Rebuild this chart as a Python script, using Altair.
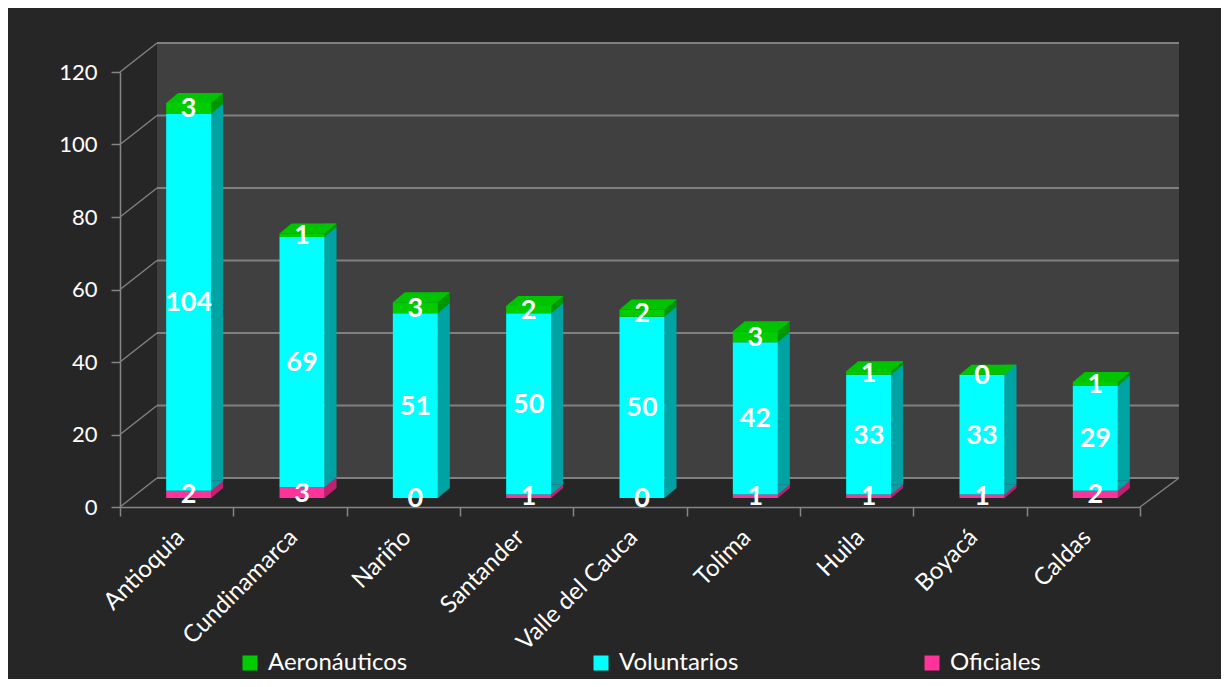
import altair as alt
import pandas as pd

categories = ["Antioquia", "Cundinamarca", "Nariño", "Santander", "Valle del Cauca",
              "Tolima", "Huila", "Boyacá", "Caldas"]
oficiales = [2, 3, 0, 1, 0, 1, 1, 1, 2]
voluntarios = [104, 69, 51, 50, 50, 42, 33, 33, 29]
aeronauticos = [3, 1, 3, 2, 2, 3, 1, 0, 1]
series_names = ["Aeronáuticos", "Voluntarios", "Oficiales"]
y_ticks = [0, 20, 40, 60, 80, 100, 120]

front_colors = ["#00cc00", "#00ffff", "#ff3399"]
top_color = "#00c400"
side_colors = ["#009600", "#00a3a3", "#c0206e"]

rows = []
stack_rank = {"Oficiales": 0, "Voluntarios": 1, "Aeronáuticos": 2}
for i, c in enumerate(categories):
    for name, vals in (("Oficiales", oficiales), ("Voluntarios", voluntarios),
                       ("Aeronáuticos", aeronauticos)):
        rows.append({"category": c, "series": name, "value": vals[i], "ord": stack_rank[name]})
df = pd.DataFrame(rows)
grid_df = pd.DataFrame({"v": y_ticks})

W, H = 1020, 435
DX, DY = 37, 29          # depth of back wall
BX, BY = 12, 9           # bar front-face offset
SX, SY = 12, 10          # bar depth
BW = 45                  # bar front width

FONT = "Lato"
y_axis = alt.Axis(values=y_ticks, title=None, grid=False, labelColor="white", labelFont=FONT,
                  labelFontSize=22, labelPadding=14, domainColor="#868686", domainWidth=1.5,
                  tickColor="#868686", tickWidth=1.5, tickSize=9)
x_axis = alt.Axis(title=None, labelAngle=-45, labelColor="white", labelFont=FONT,
                  labelFontSize=24, labelPadding=9, labelOffset=-5, tickBand="extent",
                  domainColor="#868686", domainWidth=1.5, tickColor="#868686", tickWidth=1.5,
                  tickSize=9)
y_scale = alt.Scale(domain=[0, 120], nice=False)
x_scale = alt.Scale(domain=categories, paddingInner=0, paddingOuter=0)

X = alt.X("category:N", sort=categories, scale=x_scale, axis=x_axis)
Y = alt.Y("value:Q", stack="zero", scale=y_scale, axis=y_axis)
ORDER = alt.Order("ord:Q", sort="ascending")


def stacked(data):
    return alt.Chart(data).transform_stack(
        stack="value", groupby=["category"], as_=["y0", "y1"],
        sort=[alt.SortField("ord", order="ascending")]
    )


wall = alt.Chart(grid_df).mark_rect(color="#404040").encode(
    x=alt.value(DX), x2=alt.value(W + DX + 2), y=alt.value(-DY), y2=alt.value(H - DY)
).transform_filter("datum.v == 0")

grid = alt.Chart(grid_df).mark_rule(color="#808080", strokeWidth=2, yOffset=-DY).encode(
    y=alt.Y("v:Q", scale=y_scale, axis=y_axis), x=alt.value(DX), x2=alt.value(W + DX + 2)
)
diag = alt.Chart(grid_df).mark_rule(color="#808080", strokeWidth=1.5, y2Offset=-DY).encode(
    y=alt.Y("v:Q", scale=y_scale, axis=y_axis), y2="v:Q", x=alt.value(0), x2=alt.value(DX)
)
floor_edge = alt.Chart(grid_df).mark_rule(color="#808080", strokeWidth=1.5, y2Offset=-DY).encode(
    y=alt.Y("v:Q", scale=y_scale, axis=y_axis), y2="v:Q", x=alt.value(W), x2=alt.value(W + DX + 2)
).transform_filter("datum.v == 0")

side_scale = alt.Scale(domain=series_names, range=side_colors)

side_rect = alt.Chart(df).transform_filter("datum.value > 0").mark_bar(
    width=SX, xOffset=BX + BW / 2 + SX / 2, yOffset=-BY - SY, y2Offset=-BY - SY
).encode(
    x=X, y=Y, order=ORDER,
    color=alt.Color("series:N", scale=side_scale, legend=None),
)
side_tri = stacked(df).transform_filter("datum.value > 0").mark_point(
    shape=f"M 0 0 L 0 -{SY} L {SX} -{SY} Z", size=4, filled=True, opacity=1, strokeWidth=0,
    xOffset=BX + BW / 2, yOffset=-BY
).encode(
    x=X, y=alt.Y("y0:Q", scale=y_scale, axis=y_axis),
    color=alt.Color("series:N", scale=side_scale, legend=None),
)
front = alt.Chart(df).mark_bar(width=BW, xOffset=BX, yOffset=-BY, y2Offset=-BY).encode(
    x=X, y=Y, order=ORDER,
    color=alt.Color("series:N", scale=alt.Scale(domain=series_names, range=front_colors),
                    legend=alt.Legend(title=None, orient="none", direction="horizontal", columns=3,
                                      legendX=118, legendY=579, columnPadding=181,
                                      symbolType="square", symbolSize=225, symbolStrokeWidth=0,
                                      labelColor="white", labelFont=FONT, labelFontSize=24,
                                      labelOffset=6, padding=0)),
)
top_face = stacked(df).transform_filter("datum.series == 'Aeronáuticos'").mark_point(
    shape=f"M -{BW / 2} 0 L {BW / 2} 0 L {BW / 2 + SX} -{SY} L -{BW / 2 - SX} -{SY} Z",
    size=4, filled=True, opacity=1, strokeWidth=0, color=top_color, xOffset=BX, yOffset=-BY
).encode(
    x=X, y=alt.Y("y1:Q", scale=y_scale, axis=y_axis)
)
labels = stacked(df).transform_calculate(mid="(datum.y0 + datum.y1) / 2").mark_text(
    color="white", font=FONT, fontWeight="bold", fontSize=27, xOffset=BX, yOffset=-BY + 1,
    baseline="middle", align="center"
).encode(
    x=X, y=alt.Y("mid:Q", scale=y_scale, axis=y_axis), text="value:Q"
)

chart = alt.layer(wall, grid, diag, floor_edge, side_rect, side_tri, front, top_face, labels
).resolve_scale(
    color="independent"
).properties(
    width=W, height=H, background="#262626",
    autosize=alt.AutoSizeParams(type="none"),
    padding={"left": 112, "top": 64, "right": 81, "bottom": 172},
).configure_view(stroke=None)

chart.save("out.html", embed_options={"renderer": "svg", "actions": False})
